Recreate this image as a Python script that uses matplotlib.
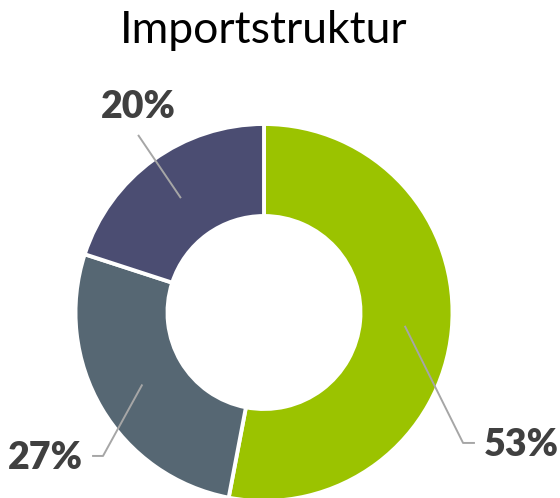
import matplotlib
matplotlib.use("Agg")
import matplotlib.pyplot as plt
import numpy as np

# data
categories = ["A", "B", "C"]
shares = [53, 27, 20]
labels = ["53%", "27%", "20%"]
colors = ["#9BC300", "#566773", "#4B4D72"]

# layout (pixels of the 560x498 output)
W, H = 560, 498
cx, cy, R = 264, 312.5, 188.5
hole = 96.5

fig = plt.figure(figsize=(W / 100, H / 100), dpi=100)
ax = fig.add_axes([(cx - R) / W, (H - cy - R) / H, 2 * R / W, 2 * R / H])

wedges, _ = ax.pie(shares, colors=colors, startangle=90, counterclock=False,
                   radius=1.0, wedgeprops=dict(width=1 - hole / R, edgecolor="white",
                                               linewidth=2.8))
ax.set_xlim(-1, 1)
ax.set_ylim(-1, 1)
ax.set_aspect("equal")
ax.axis("off")

# label placement: elbow point, end of line, text anchor
label_layout = [
    dict(elbow=(1.056, -0.692), end=(1.119, -0.692), text=(1.165, -0.705), ha="left"),
    dict(elbow=(-0.854, -0.761), end=(-0.912, -0.761), text=(-0.960, -0.770), ha="right"),
    dict(elbow=None, end=(-0.668, 0.942), text=(-0.668, 1.090), ha="center"),
]

for w, lab, lay in zip(wedges, labels, label_layout):
    mid = np.deg2rad((w.theta1 + w.theta2) / 2)
    start = (0.75 * np.cos(mid), 0.75 * np.sin(mid))
    pts = [start]
    if lay["elbow"] is not None:
        pts.append(lay["elbow"])
    pts.append(lay["end"])
    xs, ys = zip(*pts)
    ax.plot(xs, ys, color="#A6A6A6", lw=1.4, clip_on=False, solid_capstyle="butt")
    ax.text(lay["text"][0], lay["text"][1], lab, ha=lay["ha"], va="center",
            fontsize=27, fontweight="heavy", color="#404040", family="Lato",
            clip_on=False)

fig.text(cx / W, 1 - 43 / H, "Importstruktur", ha="center", va="baseline",
         fontsize=32, color="black", family="Lato")

fig.savefig("out.png", dpi=100)
